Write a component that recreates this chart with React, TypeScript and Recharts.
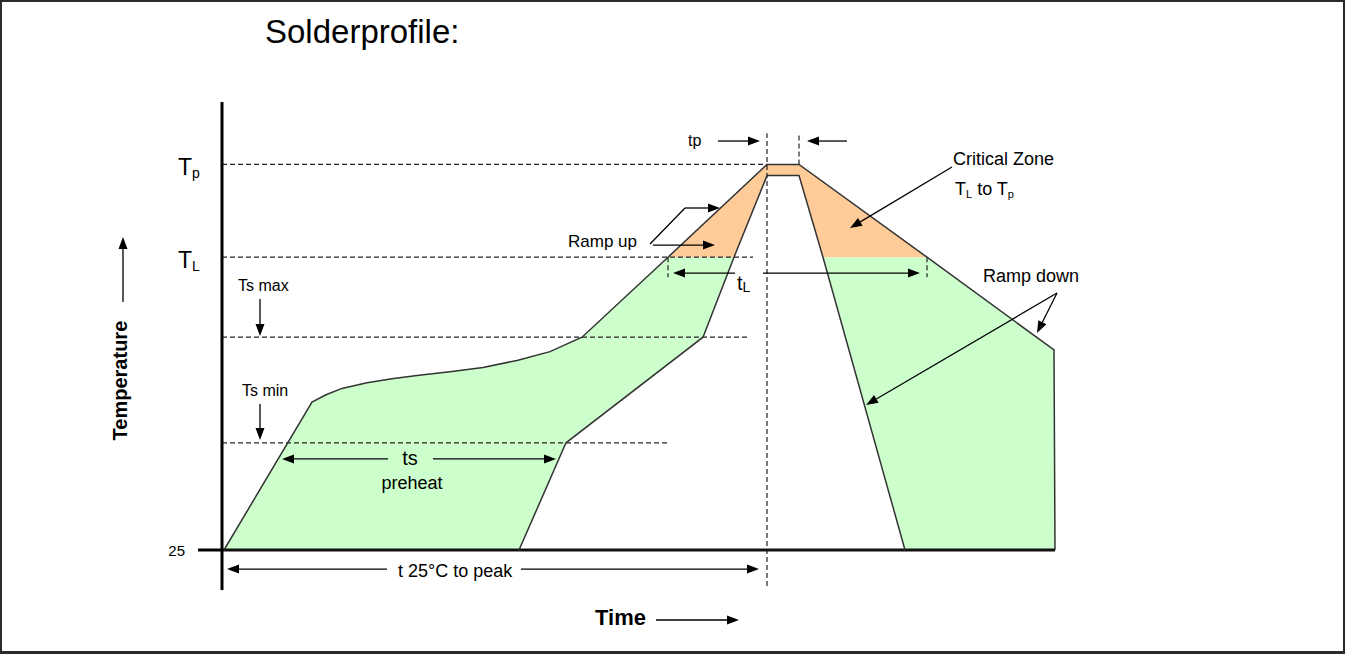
import { ComposedChart, XAxis, YAxis, Area, Line, ReferenceLine, ReferenceDot } from 'recharts';

const FONT = '"Liberation Sans", Arial, Helvetica, sans-serif';
const GREEN = '#ccffcc';
const ORANGE = '#ffcc99';
const INK = '#000';
const DASH = '#222';

// temperature levels (schematic units)
const T25 = 25;
const TS_MIN = 92;
const TS_MAX = 158;
const TL = 208;
const TP = 266;
const TP_INNER = 259;

// time marks (schematic seconds)
const T_PEAK = 272.5;
const T_PEAK_END = 288.5;

// outer edge of the profile band (left ramp -> soak -> peak -> ramp down)
const outerTime = [1, 45, 52, 60, 72.5, 85, 97.5, 115, 130.5, 147.5, 164, 180, 223, 272.5, 288.5, 352.5, 416, 416.5];
const outerTemp = [25, 117.5, 122, 126, 129.5, 132, 134, 136.5, 139, 143.5, 149, 158, 208, 266, 266, 208, 150, 25];

// inner edge of the profile band
const innerTime = [148.5, 172, 240.5, 256, 272.5, 288.5, 300.5, 341.5];
const innerTemp = [25, 92, 158, 208, 259, 259, 208, 25];

const yTicks = [T25, TL, TP];
const yTickLabels = ['25', 'TL', 'Tp'];

const pick = (ts: number[], vs: number[], idx: number[]) => idx.map((i) => ({ t: ts[i], T: vs[i] }));
const seq = (a: number, b: number) => {
  const r: number[] = [];
  const step = a <= b ? 1 : -1;
  for (let i = a; i !== b + step; i += step) r.push(i);
  return r;
};

const iTL = outerTemp.indexOf(TL); // outer point where the ramp crosses TL
const nOut = outerTime.length;
const outer = pick(outerTime, outerTemp, seq(0, nOut - 1));
const inner = pick(innerTime, innerTemp, seq(0, innerTime.length - 1));
const leftGreen = [...pick(innerTime, innerTemp, seq(0, 3)), ...pick(outerTime, outerTemp, seq(iTL, 0))];
const orangeZone = [...pick(innerTime, innerTemp, seq(3, 6)), ...pick(outerTime, outerTemp, seq(iTL + 3, iTL))];
const peakBand = pick(outerTime, outerTemp, [iTL + 1, iTL + 2]);
const rightGreen = [...pick(innerTime, innerTemp, [7, 6]), ...pick(outerTime, outerTemp, seq(iTL + 3, nOut - 1))];

const arrowShape = (p: any) => {
  const x1 = Number(p.x1), y1 = Number(p.y1), x2 = Number(p.x2), y2 = Number(p.y2);
  const a = Math.atan2(y2 - y1, x2 - x1);
  const len = 12;
  const half = 4.5;
  const bx = x2 - len * Math.cos(a);
  const by = y2 - len * Math.sin(a);
  const nx = -Math.sin(a) * half;
  const ny = Math.cos(a) * half;
  return (
    <g>
      <line x1={x1} y1={y1} x2={bx} y2={by} stroke={INK} strokeWidth={1.3} />
      <polygon points={`${x2},${y2} ${bx + nx},${by + ny} ${bx - nx},${by - ny}`} fill={INK} />
    </g>
  );
};

const seg = (key: string, a: [number, number], b: [number, number], props: any) => (
  <ReferenceLine
    key={key}
    segment={[{ x: a[0], y: a[1] }, { x: b[0], y: b[1] }]}
    ifOverflow="visible"
    {...props}
  />
);

const dashed = (key: string, a: [number, number], b: [number, number]) =>
  seg(key, a, b, { stroke: DASH, strokeWidth: 1.2, strokeDasharray: '5 3' });
const arrow = (key: string, a: [number, number], b: [number, number]) => seg(key, a, b, { shape: arrowShape });
const leader = (key: string, a: [number, number], b: [number, number]) =>
  seg(key, a, b, { stroke: INK, strokeWidth: 1.3 });

const note = (key: string, t: number, T: number, content: any, opts: any = {}) => (
  <ReferenceDot
    key={key}
    x={t}
    y={T}
    r={0}
    ifOverflow="visible"
    shape={(p: any) => (
      <text
        x={p.cx}
        y={p.cy}
        fontSize={opts.size ?? 18}
        fontWeight={opts.weight ?? 'normal'}
        textAnchor={opts.anchor ?? 'start'}
        fontFamily={FONT}
        fill={INK}
        transform={opts.rotate ? `rotate(${opts.rotate} ${p.cx} ${p.cy})` : undefined}
      >
        {content}
      </text>
    )}
  />
);

const YTick = (props: any) => {
  const { x, y, payload } = props;
  const ax = x + 8;
  const label = yTickLabels[yTicks.indexOf(payload.value)];
  if (label === '25') {
    return (
      <g>
        <line x1={ax - 24} y1={y} x2={ax} y2={y} stroke={INK} strokeWidth={3} />
        <text x={ax - 37} y={y + 5.5} fontSize={15} textAnchor="end" fontFamily={FONT} fill={INK}>
          {label}
        </text>
      </g>
    );
  }
  return (
    <text x={ax - 44} y={y + 11} fontSize={23} fontFamily={FONT} fill={INK}>
      <tspan>{label[0]}</tspan>
      <tspan fontSize={14} dy={3}>
        {label.slice(1)}
      </tspan>
    </text>
  );
};

export default function App() {
  return (
    <div style={{ position: 'absolute', left: 0, top: 0, width: 1345, height: 654, background: '#fff' }}>
      <ComposedChart width={1345} height={654} margin={{ top: 102, right: 223, bottom: 64, left: 220 }}>
        <XAxis type="number" dataKey="t" domain={[0, 450]} allowDataOverflow hide />
        <YAxis
          type="number"
          domain={[0, 305]}
          allowDataOverflow
          width={2}
          ticks={yTicks}
          tickLine={false}
          axisLine={{ stroke: INK, strokeWidth: 3 }}
          tick={(p: any) => <YTick {...p} />}
          interval={0}
        />

        <Area data={leftGreen} dataKey="T" type="linear" baseValue={T25} fill={GREEN} fillOpacity={1} stroke="none" isAnimationActive={false} />
        <Area data={rightGreen} dataKey="T" type="linear" baseValue={T25} fill={GREEN} fillOpacity={1} stroke="none" isAnimationActive={false} />
        <Area data={orangeZone} dataKey="T" type="linear" baseValue={TL} fill={ORANGE} fillOpacity={1} stroke="none" isAnimationActive={false} />
        <Area data={peakBand} dataKey="T" type="linear" baseValue={TP_INNER} fill={ORANGE} fillOpacity={1} stroke="none" isAnimationActive={false} />

        {dashed('dTp', [0, TP], [T_PEAK, TP])}
        {dashed('dTL', [0, TL], [265.5, TL])}
        {dashed('dTsMax', [0, TS_MAX], [263.5, TS_MAX])}
        {dashed('dTsMin', [0, TS_MIN], [223.5, TS_MIN])}
        {dashed('vPeak', [T_PEAK, 2.5], [T_PEAK, 285.5])}
        {dashed('vPeakEnd', [T_PEAK_END, TP], [T_PEAK_END, 285.5])}
        {dashed('vTL1', [223, TL], [223, 195.5])}
        {dashed('vTL2', [352.5, TL], [352.5, 195.5])}

        {seg('base', [0, T25], [416.5, T25], { stroke: '#111', strokeWidth: 3 })}

        <Line data={outer} dataKey="T" type="linear" stroke="#333" strokeWidth={1.5} dot={false} activeDot={false} isAnimationActive={false} />
        <Line data={inner} dataKey="T" type="linear" stroke="#333" strokeWidth={1.5} dot={false} activeDot={false} isAnimationActive={false} />

        {arrow('aTemp', [-49.5, 180], [-49.5, 220.6])}
        {arrow('aTime', [217, -18.75], [258.5, -18.75])}
        {arrow('aTsMax', [19, 181.9], [19, 158.75])}
        {arrow('aTsMin', [19, 116.25], [19, 93.75])}
        {arrow('aTsL', [83, 81.9], [30, 81.9])}
        {arrow('aTsR', [105.5, 81.9], [167, 81.9])}
        {arrow('a25L', [82.5, 13.1], [2.5, 13.1])}
        {arrow('a25R', [149.5, 13.1], [268.5, 13.1])}
        {arrow('aTpR', [248, 280.6], [269, 280.6])}
        {arrow('aTpL', [312.5, 280.6], [292.5, 280.6])}
        {leader('lRamp', [214, 216.25], [231.5, 238.75])}
        {arrow('aRamp1', [231.5, 238.75], [249, 238.75])}
        {arrow('aRamp2', [215.5, 215.6], [246.5, 215.6])}
        {arrow('aTlL', [256.5, 198.1], [225.5, 198.1])}
        {arrow('aTlR', [270.5, 198.1], [349, 198.1])}
        {arrow('aCrit', [365, 264.4], [314, 226.25])}
        {arrow('aDown1', [417.5, 185.6], [407.5, 160.6])}
        {arrow('aDown2', [417.5, 185.6], [322, 115.6])}

        {note('title', 21.5, 341.9, 'Solderprofile:', { size: 33 })}
        {note('temp', -47.25, 130.9, 'Temperature', { size: 20, weight: 'bold', anchor: 'middle', rotate: -90 })}
        {note('time', 186.5, -21.9, 'Time', { size: 22, weight: 'bold' })}
        {note('tsmax', 8, 186.9, 'Ts max', { size: 16 })}
        {note('tsmin', 10, 121.25, 'Ts min', { size: 16 })}
        {note('ts', 94, 78.1, 'ts', { size: 20, anchor: 'middle' })}
        {note('preheat', 95, 63.1, 'preheat', { size: 18, anchor: 'middle' })}
        {note('t25', 88, 8.1, 't 25°C to peak', { size: 18 })}
        {note('tp', 233, 277.5, 'tp', { size: 16 })}
        {note('ramp', 173, 214.4, 'Ramp up', { size: 17 })}
        {note(
          'tl',
          257.5,
          187.5,
          <>
            <tspan>t</tspan>
            <tspan fontSize={14} dy={2}>L</tspan>
          </>,
          { size: 20 }
        )}
        {note('crit', 365.5, 265.6, 'Critical Zone', { size: 18 })}
        {note(
          'crit2',
          366.5,
          246.9,
          <>
            <tspan>T</tspan>
            <tspan fontSize={11} dy={3}>L</tspan>
            <tspan dy={-3}> to T</tspan>
            <tspan fontSize={11} dy={3}>p</tspan>
          </>,
          { size: 18 }
        )}
        {note('down', 380.5, 192.5, 'Ramp down', { size: 18 })}
      </ComposedChart>
      <div
        style={{
          position: 'absolute',
          left: 0,
          top: 0,
          width: 1345,
          height: 654,
          boxSizing: 'border-box',
          borderStyle: 'solid',
          borderColor: '#2b2b2b',
          borderWidth: '2px 2px 3px 2px',
          pointerEvents: 'none',
        }}
      />
    </div>
  );
}
